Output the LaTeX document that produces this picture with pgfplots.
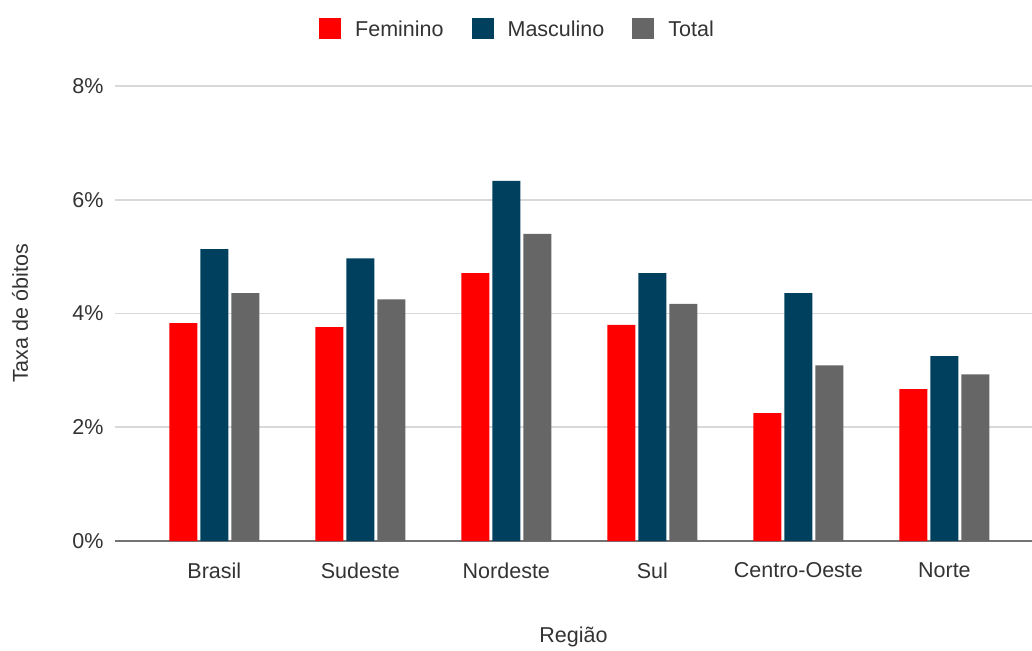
\documentclass[border=0pt]{standalone}
\usepackage{fontspec}
\setmainfont{Liberation Sans}
\usepackage{pgfplots}
\pgfplotsset{compat=1.18}
\definecolor{fem}{HTML}{FF0000}
\definecolor{masc}{HTML}{00405F}
\definecolor{tot}{HTML}{666666}
\definecolor{txt}{HTML}{333333}
\definecolor{grd}{HTML}{D9D9D9}
\begin{document}
\begin{tikzpicture}
\path[use as bounding box] (0,0) rectangle (1032pt,650pt);
\begin{axis}[
  at={(115pt,109pt)}, anchor=south west,
  scale only axis, width=917pt, height=455pt,
  ybar=3pt, bar width=28pt,
  xmin=-0.68, xmax=5.6,
  ymin=0, ymax=8,
  xtick={0,1,2,3,4,5},
  xticklabels={Brasil,Sudeste,Nordeste,Sul,Centro-Oeste,Norte},
  ytick={0,2,4,6,8},
  yticklabel={\pgfmathprintnumber{\tick}\%},
  /pgf/number format/assume math mode=true,
  ymajorgrids, grid style={grd, line width=1.6pt},
  axis x line*=bottom, axis y line*=left,
  y axis line style={draw=none},
  x axis line style={draw=gray!90!black, line width=1.2pt, -},
  major tick length=0pt,
  tick label style={font=\fontsize{21.5}{24}\selectfont, text=txt},
  xticklabel style={yshift=-18pt},
  yticklabel style={xshift=-8pt},
  xlabel={Região}, xlabel style={font=\fontsize{21.5}{24}\selectfont, text=txt, at={(axis description cs:0.5,0)}, anchor=center, yshift=-96pt},
  ylabel={Taxa de óbitos},
  every axis y label/.style={at={(axis description cs:0,0.5)}, rotate=90, anchor=center, yshift=95pt, font=\fontsize{21.5}{24}\selectfont, text=txt},
  legend style={at={(0.5,1)}, yshift=57pt, xshift=-56pt, anchor=center, legend columns=3, draw=none, fill=none,
    font=\fontsize{21.5}{24}\selectfont, text=txt,
    /tikz/every odd column/.append style={column sep=12pt},
    /tikz/every even column/.append style={column sep=26pt}},
  legend image code/.code={\fill[#1] (0pt,-10pt) rectangle (22pt,11pt);},
  clip=false,
]
\addplot[fill=fem, draw=none] coordinates {(0,3.83) (1,3.76) (2,4.71) (3,3.80) (4,2.25) (5,2.67)};
\addplot[fill=masc, draw=none] coordinates {(0,5.13) (1,4.97) (2,6.33) (3,4.71) (4,4.36) (5,3.25)};
\addplot[fill=tot, draw=none] coordinates {(0,4.36) (1,4.25) (2,5.40) (3,4.17) (4,3.09) (5,2.93)};
\legend{Feminino,Masculino,Total}
\end{axis}
\end{tikzpicture}
\end{document}
